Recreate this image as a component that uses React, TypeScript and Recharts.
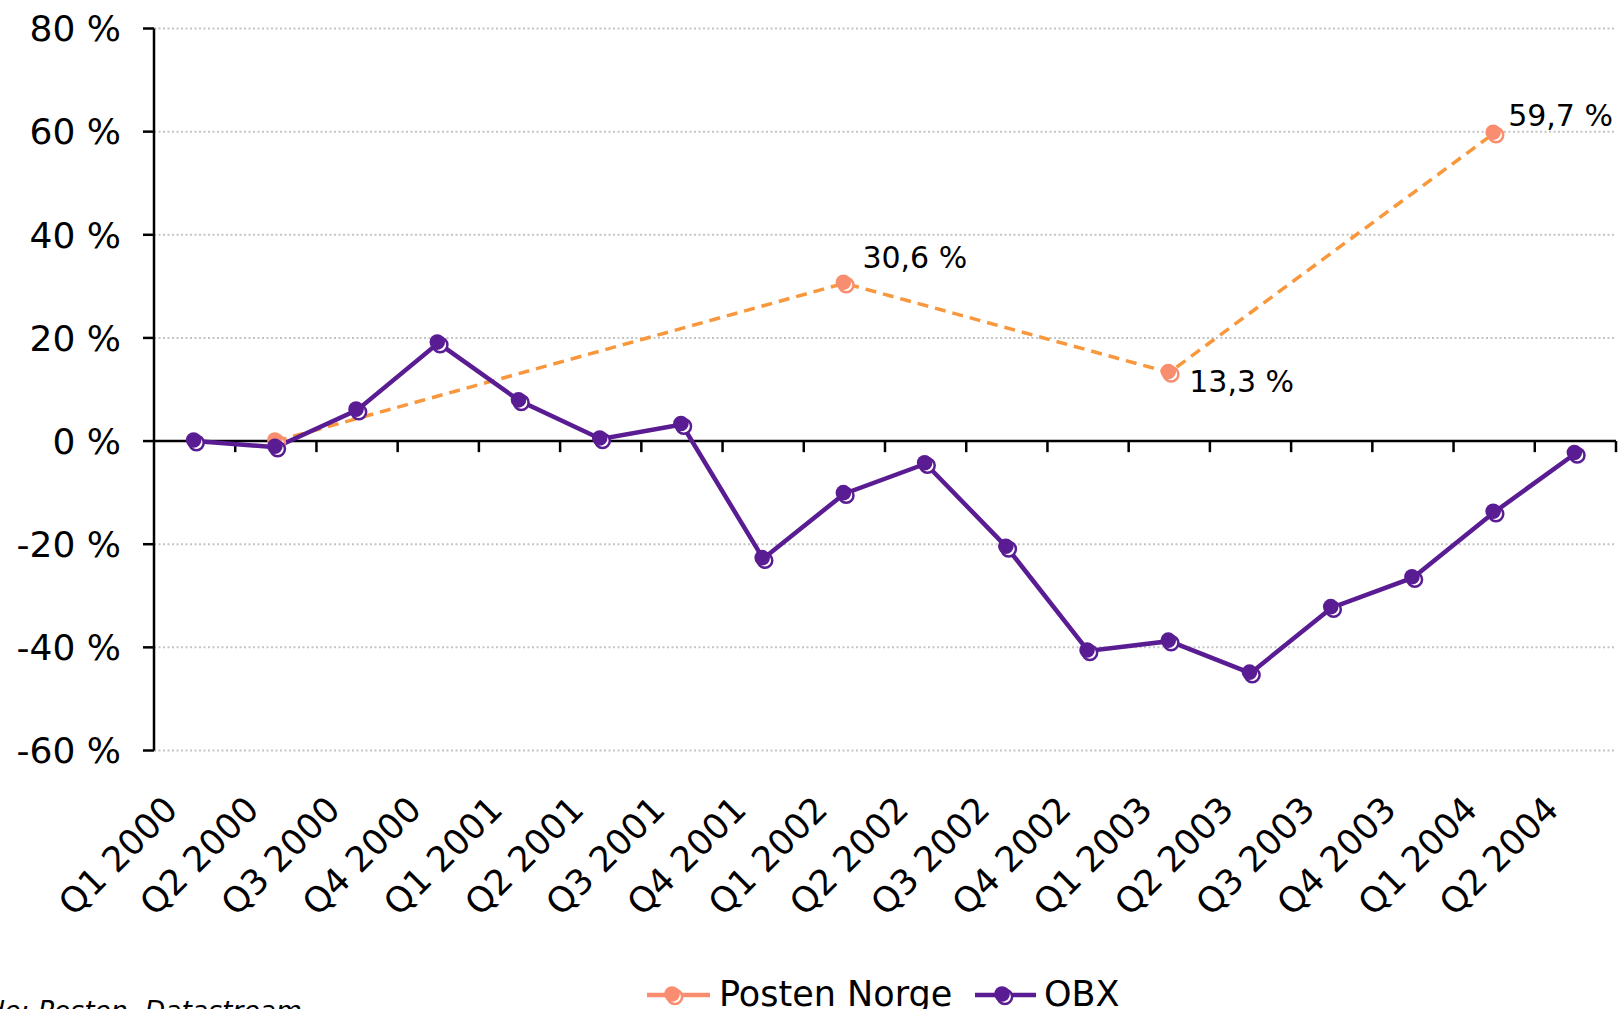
import React from 'react';
import { LineChart, Line, XAxis, YAxis, CartesianGrid, ReferenceLine } from 'recharts';

const categories = ['Q1 2000', 'Q2 2000', 'Q3 2000', 'Q4 2000', 'Q1 2001', 'Q2 2001', 'Q3 2001', 'Q4 2001', 'Q1 2002', 'Q2 2002', 'Q3 2002', 'Q4 2002', 'Q1 2003', 'Q2 2003', 'Q3 2003', 'Q4 2003', 'Q1 2004', 'Q2 2004'];
const obxValues = [0, -1.2, 6, 19, 7.8, 0.4, 3.2, -22.8, -10.2, -4.4, -20.6, -40.7, -38.8, -45, -32.3, -26.5, -13.8, -2.4];
const postenValues: (number | null)[] = [null, 0, null, null, null, null, null, null, 30.6, null, null, null, 13.3, null, null, null, 59.7, null];
const postenLabels: (string | null)[] = [null, null, null, null, null, null, null, null, '30,6 %', null, null, null, '13,3 %', null, null, null, '59,7 %', null];
const yTicks = [-60, -40, -20, 0, 20, 40, 60, 80];
const seriesNames = ['Posten Norge', 'OBX'];
const sourceText = 'Kilde: Posten, Datastream';

const data = categories.map((c, i) => ({ i, cat: c, obx: obxValues[i], posten: postenValues[i], plabel: postenLabels[i] }));
const boundaries = categories.map((_, i) => i + 0.5);

const FONT = 'DejaVu Sans';
const PURPLE = '#5A1C92';
const SALMON = '#F88E6F';
const ORANGE = '#F8973C';

const Marker = ({ cx, cy, color }: { cx: number; cy: number; color: string }) => (
  <g>
    <circle cx={cx + 1.8} cy={cy + 1.8} r={7.3} fill="#fff" stroke={color} strokeWidth={2.5} />
    <circle cx={cx - 1} cy={cy - 1} r={7.8} fill={color} />
  </g>
);

const makeDot = (color: string, showLabel: boolean) => (props: any) => {
  const { cx, cy, payload, index } = props;
  if (cx == null || cy == null || payload == null) return <g key={index} />;
  const v = showLabel ? payload.posten : payload.obx;
  if (v == null) return <g key={index} />;
  let label = null;
  if (showLabel && payload.plabel) {
    const offs: Record<string, [number, number]> = {
      '30,6 %': [18, -15],
      '13,3 %': [20, 20],
      '59,7 %': [14, -7],
    };
    const o = offs[payload.plabel] || [14, -8];
    label = (
      <text x={cx + o[0]} y={cy + o[1]} fontFamily={FONT} fontSize={30} fill="#000">
        {payload.plabel}
      </text>
    );
  }
  return (
    <g key={index}>
      <Marker cx={cx} cy={cy} color={color} />
      {label}
    </g>
  );
};

const XTick = (props: any) => {
  const { x, y, payload } = props;
  const label = categories[payload.value];
  if (label == null) return null;
  return (
    <g transform={`translate(${x - 15},${y + 61}) rotate(-45)`}>
      <text x={0} y={0} textAnchor="end" fontFamily={FONT} fontSize={35} fill="#000">
        {label}
      </text>
    </g>
  );
};

export default function App() {
  return (
    <div style={{ position: 'absolute', left: 0, top: 0, width: 1618, height: 1009, overflow: 'hidden', background: '#fff' }}>
      <LineChart width={1618} height={1009} data={data} margin={{ top: 28.5, right: 2, bottom: 0, left: 0 }}>
        <CartesianGrid vertical={false} stroke="#C4C4C4" strokeWidth={2} strokeDasharray="2 2.5" />
        <XAxis
          dataKey="i"
          type="number"
          domain={[-0.5, 17.5]}
          ticks={categories.map((_, i) => i)}
          interval={0}
          height={258.5}
          axisLine={false}
          tickLine={false}
          tickSize={0}
          tickMargin={0}
          tick={<XTick />}
          allowDataOverflow
        />
        <YAxis
          type="number"
          domain={[-60, 80]}
          ticks={yTicks}
          width={154}
          interval={0}
          axisLine={{ stroke: '#000', strokeWidth: 2.5 }}
          tickLine={{ stroke: '#000', strokeWidth: 2.5 }}
          tickSize={11}
          tickMargin={22}
          tickFormatter={(v: number) => `${v} %`}
          tick={{ fontFamily: FONT, fontSize: 36, fill: '#000' }}
        />
        <ReferenceLine y={0} stroke="#000" strokeWidth={2.5} />
        {boundaries.map((b) => (
          <ReferenceLine
            key={b}
            segment={[{ x: b, y: 0 }, { x: b, y: -2.15 }]}
            stroke="#000"
            strokeWidth={2.5}
          />
        ))}
        <Line
          type="linear"
          dataKey="posten"
          name={seriesNames[0]}
          stroke={ORANGE}
          strokeWidth={3.5}
          strokeDasharray="11 7"
          connectNulls
          dot={makeDot(SALMON, true)}
          activeDot={false}
          isAnimationActive={false}
        />
        <Line
          type="linear"
          dataKey="obx"
          name={seriesNames[1]}
          stroke={PURPLE}
          strokeWidth={4.5}
          dot={makeDot(PURPLE, false)}
          activeDot={false}
          isAnimationActive={false}
        />
      </LineChart>
      <svg width={1618} height={1009} style={{ position: 'absolute', left: 0, top: 0, pointerEvents: 'none' }}>
        <line x1={647} y1={995} x2={710} y2={995} stroke={SALMON} strokeWidth={4.5} />
        <Marker cx={673} cy={995} color={SALMON} />
        <text x={719} y={1006} fontFamily={FONT} fontSize={35} fill="#000">{seriesNames[0]}</text>
        <line x1={975} y1={995} x2={1036} y2={995} stroke={PURPLE} strokeWidth={4.5} />
        <Marker cx={1003} cy={995} color={PURPLE} />
        <text x={1044} y={1006} fontFamily={FONT} fontSize={35} fill="#000">{seriesNames[1]}</text>
        <text x={302} y={1019.5} textAnchor="end" fontFamily={FONT} fontStyle="italic" fontSize={26.6} fill="#000">{sourceText}</text>
      </svg>
    </div>
  );
}
